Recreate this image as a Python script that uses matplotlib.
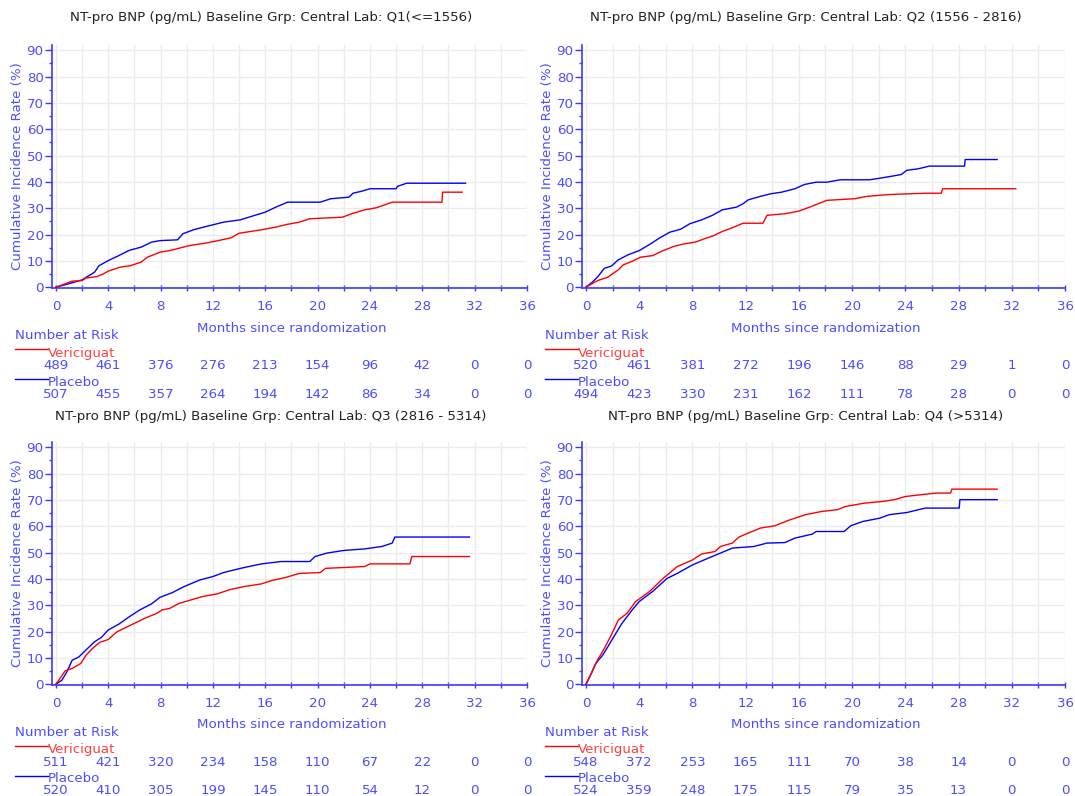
import matplotlib
matplotlib.use("Agg")
import matplotlib.pyplot as plt
from matplotlib.lines import Line2D
from matplotlib.ticker import MultipleLocator
import matplotlib.transforms as mtrans

plt.rcParams['font.family'] = ['DejaVu Sans']

# ---------------- data ----------------
titles = [
    "NT-pro BNP (pg/mL) Baseline Grp: Central Lab: Q1(<=1556)",
    "NT-pro BNP (pg/mL) Baseline Grp: Central Lab: Q2 (1556 - 2816)",
    "NT-pro BNP (pg/mL) Baseline Grp: Central Lab: Q3 (2816 - 5314)",
    "NT-pro BNP (pg/mL) Baseline Grp: Central Lab: Q4 (>5314)",
]
groups = ["Vericiguat", "Placebo"]
risk_months = [0, 4, 8, 12, 16, 20, 24, 28, 32, 36]

q1_veri_t = [0, 1.24, 2.0, 2.3, 3.1, 3.6, 4.0, 4.9, 5.7, 6.5, 7.0, 7.95, 8.7, 9.4, 10.2, 11.4, 12.4, 13.4, 14.0, 15.7, 16.8, 17.6, 18.6, 19.4, 21.9, 22.6, 23.6, 24.5, 25.7, 29.5, 29.55, 31.05]
q1_veri_y = [0, 2.3, 2.5, 3.5, 4.0, 5.0, 6.1, 7.6, 8.2, 9.5, 11.4, 13.3, 13.9, 14.8, 15.8, 16.7, 17.7, 18.8, 20.5, 21.8, 22.8, 23.8, 24.7, 26.0, 26.6, 27.9, 29.4, 30.2, 32.3, 32.3, 36.1, 36.1]
q1_plac_t = [0, 0.97, 2.0, 2.95, 3.3, 4.0, 4.8, 5.6, 6.5, 7.3, 7.95, 9.3, 9.7, 10.5, 11.5, 12.8, 14.1, 15.2, 16.0, 16.8, 17.7, 20.2, 21.0, 22.4, 22.7, 23.4, 24.0, 26.0, 26.1, 26.8, 31.3]
q1_plac_y = [0, 1.3, 2.8, 5.7, 8.2, 10.1, 12.0, 14.0, 15.2, 17.1, 17.7, 18.0, 20.3, 21.8, 23.1, 24.7, 25.6, 27.3, 28.5, 30.4, 32.3, 32.3, 33.6, 34.2, 35.7, 36.5, 37.4, 37.4, 38.3, 39.5, 39.5]

q2_veri_t = [0, 0.86, 1.64, 2.0, 2.43, 2.8, 3.5, 4.1, 5.0, 5.8, 6.6, 7.4, 8.2, 8.9, 9.6, 10.25, 11.0, 11.8, 13.3, 13.6, 14.95, 16.0, 16.8, 17.3, 18.1, 20.2, 21.1, 22.8, 25.5, 26.7, 26.8, 32.3]
q2_veri_y = [0, 2.5, 3.8, 5.1, 6.6, 8.5, 9.9, 11.4, 12.0, 13.9, 15.5, 16.5, 17.1, 18.4, 19.6, 21.2, 22.6, 24.3, 24.3, 27.3, 27.9, 28.9, 30.4, 31.4, 33.0, 33.6, 34.5, 35.2, 35.7, 35.7, 37.4, 37.4]
q2_plac_t = [0, 0.47, 0.86, 1.38, 1.9, 2.43, 3.2, 4.0, 4.77, 5.56, 6.3, 7.1, 7.8, 8.7, 9.5, 10.25, 11.3, 11.8, 12.2, 13.1, 13.9, 14.7, 15.7, 16.4, 17.3, 18.1, 19.1, 21.3, 22.1, 22.9, 23.7, 24.1, 25.0, 25.8, 28.45, 28.5, 30.9]
q2_plac_y = [0, 1.9, 3.8, 7.2, 8.0, 10.4, 12.4, 13.9, 16.2, 18.8, 20.9, 22.0, 24.1, 25.6, 27.3, 29.4, 30.4, 31.7, 33.2, 34.5, 35.5, 36.1, 37.4, 39.0, 39.9, 39.9, 40.8, 40.8, 41.4, 42.1, 42.8, 44.4, 45.0, 46.0, 46.0, 48.5, 48.5]

q3_veri_t = [0, 0.4, 0.71, 1.24, 1.9, 2.3, 2.8, 3.34, 4.0, 4.66, 5.45, 6.24, 6.77, 7.7, 8.1, 8.7, 9.4, 10.45, 11.2, 12.3, 13.35, 14.4, 15.7, 16.5, 17.6, 18.6, 20.2, 20.6, 23.6, 24.0, 27.05, 27.2, 31.6]
q3_veri_y = [0, 2.8, 5.1, 6.0, 7.9, 11.0, 13.6, 15.9, 17.0, 19.9, 21.8, 23.7, 25.0, 26.9, 28.2, 28.8, 30.7, 32.2, 33.3, 34.3, 36.0, 37.1, 38.1, 39.4, 40.6, 42.1, 42.4, 44.0, 44.7, 45.7, 45.7, 48.5, 48.5]
q3_plac_t = [0, 0.45, 0.84, 1.24, 1.76, 2.42, 2.95, 3.48, 4.0, 4.8, 5.6, 6.4, 7.3, 7.95, 8.9, 9.8, 11.0, 12.0, 12.8, 14.1, 15.7, 17.2, 19.4, 19.8, 20.7, 22.0, 23.6, 24.9, 25.7, 25.9, 31.6]
q3_plac_y = [0, 1.5, 4.7, 9.1, 10.4, 13.6, 16.1, 17.8, 20.6, 22.8, 25.6, 28.2, 30.5, 33.0, 34.8, 37.1, 39.6, 40.9, 42.4, 44.0, 45.7, 46.6, 46.6, 48.5, 49.8, 50.8, 51.4, 52.3, 53.6, 55.9, 55.9]

q4_veri_t = [0, 0.39, 0.86, 1.38, 1.9, 2.43, 3.08, 3.73, 4.77, 5.8, 6.86, 8.0, 8.7, 9.7, 10.1, 11.0, 11.5, 12.2, 13.1, 14.2, 15.2, 16.5, 17.7, 18.9, 19.5, 20.95, 22.25, 23.2, 24.0, 26.3, 27.4, 27.5, 30.9]
q4_veri_y = [0, 4.0, 9.1, 13.6, 18.7, 24.4, 26.9, 31.4, 35.2, 40.2, 44.7, 47.2, 49.5, 50.4, 52.3, 53.6, 55.9, 57.4, 59.3, 60.2, 62.2, 64.4, 65.6, 66.3, 67.5, 68.8, 69.4, 70.1, 71.3, 72.6, 72.6, 74.1, 74.1]
q4_plac_t = [0, 0.34, 0.73, 1.25, 1.64, 2.17, 2.7, 3.47, 4.0, 5.0, 6.1, 6.86, 8.0, 9.2, 10.1, 11.0, 12.6, 13.6, 14.95, 15.7, 17.0, 17.3, 19.4, 19.9, 20.8, 22.1, 22.8, 24.1, 25.5, 28.05, 28.1, 30.9]
q4_plac_y = [0, 3.4, 7.9, 11.0, 14.2, 18.7, 23.1, 28.2, 31.4, 35.2, 40.2, 42.1, 45.3, 47.9, 49.8, 51.7, 52.3, 53.6, 53.8, 55.5, 57.0, 58.0, 58.0, 60.2, 61.8, 63.1, 64.4, 65.2, 66.9, 66.9, 70.1, 70.1]

q1_risk_veri = [489, 461, 376, 276, 213, 154, 96, 42, 0, 0]
q1_risk_plac = [507, 455, 357, 264, 194, 142, 86, 34, 0, 0]
q2_risk_veri = [520, 461, 381, 272, 196, 146, 88, 29, 1, 0]
q2_risk_plac = [494, 423, 330, 231, 162, 111, 78, 28, 0, 0]
q3_risk_veri = [511, 421, 320, 234, 158, 110, 67, 22, 0, 0]
q3_risk_plac = [520, 410, 305, 199, 145, 110, 54, 12, 0, 0]
q4_risk_veri = [548, 372, 253, 165, 111, 70, 38, 14, 0, 0]
q4_risk_plac = [524, 359, 248, 175, 115, 79, 35, 13, 0, 0]

# ---------------- style ----------------
W, H = 1075, 796
RED = "#ff0000"
BLUE = "#0000ff"
TXT = "#4d4dff"
SPINE = "#3a3aff"
GRID = "#ebebeb"
FS = 9.6

fig = plt.figure(figsize=(W / 100, H / 100), dpi=100)

def fy(px):
    return 1 - px / H

def fx(px):
    return px / W

panels = [
    dict(title=titles[0], left=52, right=527, top=45, bottom=288, tcx=271, tcy=18,
         vt=q1_veri_t, vy=q1_veri_y, pt=q1_plac_t, py=q1_plac_y, rv=q1_risk_veri, rp=q1_risk_plac),
    dict(title=titles[1], left=582, right=1065, top=45, bottom=288, tcx=806, tcy=18,
         vt=q2_veri_t, vy=q2_veri_y, pt=q2_plac_t, py=q2_plac_y, rv=q2_risk_veri, rp=q2_risk_plac),
    dict(title=titles[2], left=52, right=527, top=442, bottom=685, tcx=271, tcy=416,
         vt=q3_veri_t, vy=q3_veri_y, pt=q3_plac_t, py=q3_plac_y, rv=q3_risk_veri, rp=q3_risk_plac),
    dict(title=titles[3], left=582, right=1065, top=442, bottom=685, tcx=806, tcy=416,
         vt=q4_veri_t, vy=q4_veri_y, pt=q4_plac_t, py=q4_plac_y, rv=q4_risk_veri, rp=q4_risk_plac),
]

for p in panels:
    ax = fig.add_axes([fx(p['left']), fy(p['bottom']),
                       (p['right'] - p['left']) / W, (p['bottom'] - p['top']) / H])
    ax.set_xlim(-0.3, 36)
    ax.set_ylim(-0.3, 92)
    ax.xaxis.set_major_locator(MultipleLocator(4))
    ax.xaxis.set_minor_locator(MultipleLocator(2))
    ax.yaxis.set_major_locator(MultipleLocator(10))
    ax.yaxis.set_minor_locator(MultipleLocator(5))
    ax.grid(True, which='both', axis='x', color=GRID, lw=1)
    ax.grid(True, which='major', axis='y', color=GRID, lw=1)
    ax.set_axisbelow(True)
    for s in ['top', 'right']:
        ax.spines[s].set_visible(False)
    for s in ['left', 'bottom']:
        ax.spines[s].set_color(SPINE)
        ax.spines[s].set_linewidth(1.2)
    ax.tick_params(axis='y', which='major', direction='out', length=5, width=1,
                   color=SPINE, labelcolor=TXT, labelsize=FS, pad=1)
    ax.tick_params(axis='y', which='minor', direction='out', length=2.5, width=1, color=SPINE)
    ax.tick_params(axis='x', which='both', direction='inout', length=5, width=1,
                   color=SPINE, labelcolor=TXT, labelsize=FS, pad=6)
    ax.set_ylabel("Cumulative Incidence Rate (%)", color=TXT, fontsize=FS, labelpad=2)

    ax.plot(p['pt'], p['py'], color=BLUE, lw=1.0, zorder=3)
    ax.plot(p['vt'], p['vy'], color=RED, lw=1.0, zorder=3)

    # title
    fig.text(fx(p['tcx']), fy(p['tcy']), p['title'], ha='center', va='center',
             fontsize=FS, color='#222222')

    tr = mtrans.blended_transform_factory(ax.transData, fig.transFigure)
    b = p['bottom']
    ax.text(18, fy(b + 40), "Months since randomization", transform=tr,
            ha='center', va='center', fontsize=FS, color=TXT)

    lx = p['left'] - 37
    fig.text(fx(lx), fy(b + 47), "Number at Risk", ha='left', va='center',
             fontsize=FS, color=TXT)
    # legend lines
    fig.add_artist(Line2D([fx(lx), fx(lx + 33)], [fy(b + 61), fy(b + 61)],
                          color=RED, lw=1.0, transform=fig.transFigure))
    fig.text(fx(lx + 33), fy(b + 65), groups[0], ha='left', va='center',
             fontsize=FS, color="#ff4040")
    fig.add_artist(Line2D([fx(lx), fx(lx + 33)], [fy(b + 91), fy(b + 91)],
                          color=BLUE, lw=1.0, transform=fig.transFigure))
    fig.text(fx(lx + 33), fy(b + 94), groups[1], ha='left', va='center',
             fontsize=FS, color=TXT)
    for m, v1, v2 in zip(risk_months, p['rv'], p['rp']):
        ax.text(m, fy(b + 77), str(v1), transform=tr, ha='center', va='center',
                fontsize=FS, color=TXT)
        ax.text(m, fy(b + 106), str(v2), transform=tr, ha='center', va='center',
                fontsize=FS, color=TXT)

fig.savefig("out.png", dpi=100)
